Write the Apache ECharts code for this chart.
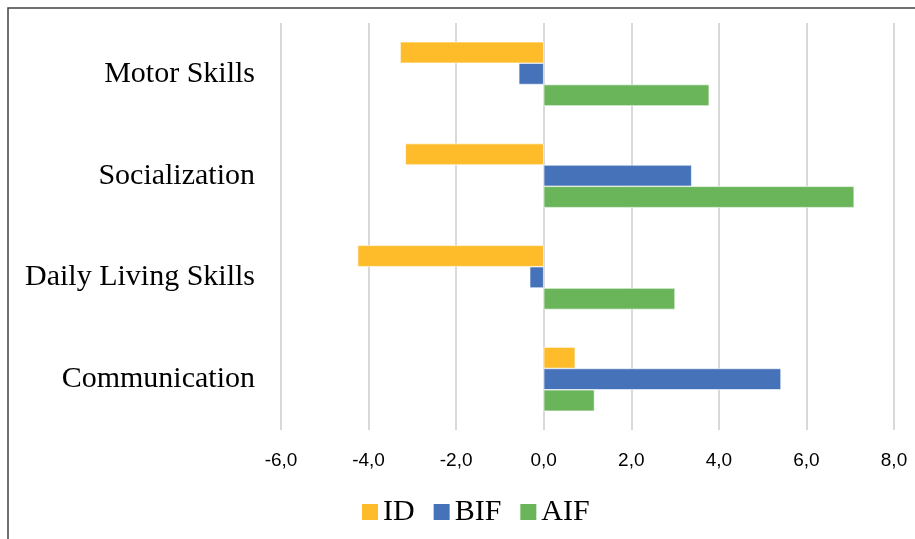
<!DOCTYPE html>
<html>
<head>
<meta charset="utf-8">
<script src="https://cdn.jsdelivr.net/npm/echarts@6/dist/echarts.min.js"></script>
<style>
  html, body { margin: 0; padding: 0; background: #fff; }
  #chart { width: 915px; height: 539px; }
</style>
</head>
<body>
<div id="chart"></div>
<script>
// Adaptive behaviour domains, listed top to bottom
const domains = ['Motor Skills', 'Socialization', 'Daily Living Skills', 'Communication'];
const seriesNames = ['ID', 'BIF', 'AIF'];
const idValues = [-3.28, -3.16, -4.25, 0.72];
const bifValues = [-0.57, 3.38, -0.32, 5.42];
const aifValues = [3.78, 7.09, 3.0, 1.16];
const colors = ['#FEBB2A', '#4672B9', '#6AB55A'];
const xTicks = { min: -6, max: 8, interval: 2 };

const chart = echarts.init(document.getElementById('chart'));

function barSeries(name, data, color) {
  return {
    name: name,
    type: 'bar',
    data: data,
    barGap: '0%',
    barCategoryGap: '37%',
    itemStyle: { color: color, borderColor: '#ffffff', borderWidth: 0.6 },
    emphasis: { disabled: true }
  };
}

chart.setOption({
  animation: false,
  backgroundColor: '#ffffff',
  color: colors,
  grid: { left: 281, right: 21, top: 23, bottom: 109, containLabel: false },
  xAxis: {
    type: 'value',
    min: xTicks.min,
    max: xTicks.max,
    interval: xTicks.interval,
    axisLine: { show: false },
    axisTick: { show: false },
    splitLine: { show: true, lineStyle: { color: '#d9d9d9', width: 2 } },
    axisLabel: {
      margin: 21,
      color: '#000',
      fontFamily: 'Liberation Sans',
      fontSize: 19,
      formatter: v => v.toFixed(1).replace('.', ',')
    }
  },
  yAxis: {
    type: 'category',
    data: domains,
    inverse: true,
    axisLine: { show: false },
    axisTick: { show: false },
    splitLine: { show: false },
    axisLabel: {
      margin: 26,
      color: '#000',
      fontFamily: 'Liberation Serif',
      fontSize: 30
    }
  },
  legend: {
    data: seriesNames,
    top: 492,
    left: 357,
    itemWidth: 16,
    itemHeight: 16,
    itemGap: 19,
    itemStyle: { borderWidth: 0 },
    icon: 'rect',
    textStyle: { fontFamily: 'Liberation Serif', fontSize: 30, color: '#000' }
  },
  graphic: [{
    type: 'polyline',
    shape: { points: [[8, 545], [8, 8], [920, 8]] },
    style: { stroke: '#404040', lineWidth: 1.5, fill: null },
    silent: true
  }],
  series: [
    barSeries(seriesNames[0], idValues, colors[0]),
    barSeries(seriesNames[1], bifValues, colors[1]),
    barSeries(seriesNames[2], aifValues, colors[2])
  ]
});
</script>
</body>
</html>
